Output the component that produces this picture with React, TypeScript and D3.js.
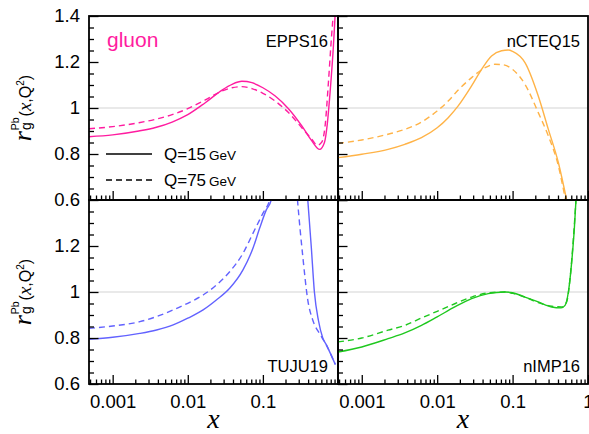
import React, { useRef, useEffect } from "react";
import * as d3 from "d3";

// x domain of every panel
const xDomain = [0.000484, 1];
const yDomain = [0.6, 1.4];

const xMajorTicks = [0.001, 0.01, 0.1, 1];
const yMajorTicks = [0.6, 0.8, 1.0, 1.2, 1.4];

// [x, r_g], Q=15 GeV (solid) and Q=75 GeV (dashed)
const eppsQ15 = [
  [0.000484, 0.875], [0.001, 0.883], [0.00223, 0.9], [0.00372, 0.915], [0.00619, 0.939],
  [0.01, 0.971], [0.0171, 1.023], [0.0286, 1.078], [0.0388, 1.103], [0.0526, 1.116],
  [0.0715, 1.11], [0.1, 1.088], [0.146, 1.052], [0.219, 0.997], [0.33, 0.922],
  [0.448, 0.857], [0.57, 0.82], [0.66, 0.85], [0.72, 0.93], [0.784, 1.067],
  [0.869, 1.27], [0.914, 1.4], [0.96, 1.52],
];
const eppsQ75 = [
  [0.000484, 0.91], [0.001, 0.919], [0.00223, 0.936], [0.00372, 0.951], [0.00619, 0.971],
  [0.01, 0.997], [0.0171, 1.035], [0.0286, 1.074], [0.0388, 1.088], [0.0526, 1.093],
  [0.0715, 1.084], [0.1, 1.064], [0.146, 1.03], [0.219, 0.98], [0.33, 0.914],
  [0.448, 0.864], [0.53, 0.838], [0.608, 0.852], [0.673, 0.922], [0.745, 1.11],
  [0.809, 1.284], [0.87, 1.42], [0.93, 1.55],
];

const ncteqQ15 = [
  [0.000484, 0.784], [0.001, 0.799], [0.00223, 0.82], [0.00372, 0.842], [0.00619, 0.871],
  [0.01, 0.914], [0.014, 0.958], [0.019, 1.009], [0.0286, 1.096], [0.0388, 1.168],
  [0.0526, 1.226], [0.0715, 1.249], [0.0877, 1.252], [0.1, 1.246], [0.146, 1.197],
  [0.219, 1.052], [0.298, 0.907], [0.405, 0.762], [0.521, 0.6], [0.6, 0.5],
];
const ncteqQ75 = [
  [0.000484, 0.846], [0.001, 0.861], [0.00223, 0.886], [0.00372, 0.907], [0.00619, 0.939],
  [0.01, 0.987], [0.014, 1.03], [0.019, 1.078], [0.0286, 1.132], [0.043, 1.175],
  [0.0583, 1.19], [0.0752, 1.188], [0.1, 1.168], [0.146, 1.103], [0.219, 0.98],
  [0.298, 0.878], [0.405, 0.748], [0.504, 0.6], [0.6, 0.48],
];

const tujuQ15 = [
  [0.000484, 0.794], [0.001, 0.803], [0.0023, 0.82], [0.00384, 0.835], [0.00639, 0.857],
  [0.01, 0.886], [0.016, 0.922], [0.024, 0.965], [0.0361, 1.016], [0.0543, 1.096],
  [0.0737, 1.19], [0.0904, 1.277], [0.111, 1.357], [0.129, 1.4], [0.17, 1.7],
  [0.25, 1.85], [0.33, 1.7], [0.396, 1.4], [0.44, 1.2], [0.485, 1.0],
  [0.55, 0.875], [0.627, 0.8], [0.7, 0.77], [0.8, 0.73], [0.92, 0.685],
];
const tujuQ75 = [
  [0.000484, 0.842], [0.001, 0.852], [0.0023, 0.871], [0.00384, 0.893], [0.00639, 0.922],
  [0.01, 0.951], [0.016, 0.987], [0.024, 1.03], [0.0361, 1.088], [0.0543, 1.168],
  [0.0737, 1.255], [0.1, 1.342], [0.123, 1.4], [0.16, 1.6], [0.21, 1.7],
  [0.26, 1.6], [0.289, 1.4], [0.34, 1.154], [0.396, 0.965], [0.461, 0.878],
  [0.566, 0.82], [0.694, 0.772], [0.8, 0.73], [0.92, 0.685],
];

const nimpQ15 = [
  [0.000484, 0.739], [0.001, 0.761], [0.00223, 0.797], [0.00372, 0.822], [0.00619, 0.855],
  [0.01, 0.892], [0.0171, 0.935], [0.0286, 0.971], [0.0475, 0.993], [0.0791, 1.0],
  [0.1, 0.997], [0.146, 0.978], [0.219, 0.957], [0.33, 0.935], [0.439, 0.931],
  [0.496, 0.942], [0.549, 1.0], [0.608, 1.131], [0.659, 1.276], [0.694, 1.406], [0.75, 1.6],
];
const nimpQ75 = [
  [0.000484, 0.783], [0.001, 0.8], [0.00223, 0.834], [0.00372, 0.855], [0.00619, 0.887],
  [0.01, 0.916], [0.0171, 0.949], [0.0286, 0.978], [0.0475, 0.996], [0.0791, 1.0],
  [0.1, 0.994], [0.146, 0.978], [0.219, 0.954], [0.33, 0.938], [0.448, 0.935],
  [0.521, 0.957], [0.578, 1.058], [0.64, 1.232], [0.694, 1.406], [0.75, 1.6],
];

const panels = [
  { name: "EPPS16", color: "#ff1ca0", q15: eppsQ15, q75: eppsQ75, col: 0, row: 0 },
  { name: "nCTEQ15", color: "#ffb347", q15: ncteqQ15, q75: ncteqQ75, col: 1, row: 0 },
  { name: "TUJU19", color: "#6262ff", q15: tujuQ15, q75: tujuQ75, col: 0, row: 1 },
  { name: "nIMP16", color: "#1ec81e", q15: nimpQ15, q75: nimpQ75, col: 1, row: 1 },
];

const SANS = "'Liberation Sans', Arial, Helvetica, sans-serif";
const SERIF = "'Liberation Serif', 'Times New Roman', serif";

const App = () => {
  const ref = useRef(null);

  useEffect(() => {
    const width = 589;
    const height = 434;
    const colX = [89, 338, 588];
    const rowY = [16, 200, 384];

    d3.select(ref.current).select("svg").remove();

    const svg = d3
      .select(ref.current)
      .append("svg")
      .attr("width", width)
      .attr("height", height)
      .style("position", "absolute")
      .style("left", "0px")
      .style("top", "0px")
      .style("background", "#fff");

    const minorX = [];
    for (let e = -4; e <= 0; e++) {
      for (let m = 2; m <= 9; m++) {
        const v = m * Math.pow(10, e);
        if (v >= xDomain[0] && v <= xDomain[1]) minorX.push(v);
      }
    }
    const minorY = d3.range(0.6, 1.4001, 0.05).filter((v) => Math.abs(Math.round(v * 5) - v * 5) > 0.01);

    panels.forEach((p, i) => {
      const x0 = colX[p.col];
      const x1 = colX[p.col + 1];
      const y0 = rowY[p.row];
      const y1 = rowY[p.row + 1];

      const x = d3.scaleLog().domain(xDomain).range([x0, x1]);
      const y = d3.scaleLinear().domain(yDomain).range([y1, y0]);

      const clipId = `clip${i}`;
      svg
        .append("clipPath")
        .attr("id", clipId)
        .append("rect")
        .attr("x", x0)
        .attr("y", y0)
        .attr("width", x1 - x0)
        .attr("height", y1 - y0);

      const g = svg.append("g");

      // reference line at 1
      g.append("line")
        .attr("x1", x0)
        .attr("x2", x1)
        .attr("y1", y(1))
        .attr("y2", y(1))
        .attr("stroke", "#d4d4d4")
        .attr("stroke-width", 1.2);

      const line = d3
        .line()
        .x((d) => x(d[0]))
        .y((d) => y(d[1]))
        .curve(d3.curveMonotoneX);

      const curves = g.append("g").attr("clip-path", `url(#${clipId})`);
      curves
        .append("path")
        .attr("d", line(p.q75))
        .attr("fill", "none")
        .attr("stroke", p.color)
        .attr("stroke-width", 1.4)
        .attr("stroke-dasharray", "6,4");
      curves
        .append("path")
        .attr("d", line(p.q15))
        .attr("fill", "none")
        .attr("stroke", p.color)
        .attr("stroke-width", 1.4);

      // bottom axis, ticks inward
      const showX = p.row === 1;
      const xLabels = p.col === 1 ? xMajorTicks : xMajorTicks.slice(0, 3);
      const bx = g.append("g").attr("transform", `translate(0,${y1})`);
      bx.call(
        d3
          .axisBottom(x)
          .tickValues(showX ? xLabels : xMajorTicks)
          .tickSize(-9)
          .tickPadding(11)
          .tickFormat((d) => (showX ? String(d) : ""))
      );
      bx.append("g").call(d3.axisBottom(x).tickValues(minorX).tickSize(-4.5).tickFormat(() => ""));
      bx.selectAll(".domain").remove();
      bx.selectAll("line").attr("stroke", "#000").attr("stroke-width", 1.3);
      bx.selectAll("text")
        .attr("font-family", SANS)
        .attr("font-size", 18.5)
        .attr("fill", "#000");

      // left axis, ticks inward
      const showY = p.col === 0;
      const yLabels = p.row === 0 ? yMajorTicks : yMajorTicks.slice(0, 4);
      const ly = g.append("g").attr("transform", `translate(${x0},0)`);
      ly.call(
        d3
          .axisLeft(y)
          .tickValues(showY ? yLabels : yMajorTicks)
          .tickSize(-9.5)
          .tickPadding(9)
          .tickFormat((d) => (showY ? d3.format("~g")(d) : ""))
      );
      ly.append("g").call(d3.axisLeft(y).tickValues(minorY).tickSize(-5).tickFormat(() => ""));
      ly.selectAll(".domain").remove();
      ly.selectAll("line").attr("stroke", "#000").attr("stroke-width", 1.3);
      ly.selectAll("text")
        .attr("font-family", SANS)
        .attr("font-size", 18.5)
        .attr("fill", "#000");

      // frame
      g.append("rect")
        .attr("x", x0)
        .attr("y", y0)
        .attr("width", x1 - x0)
        .attr("height", y1 - y0)
        .attr("fill", "none")
        .attr("stroke", "#000")
        .attr("stroke-width", 1.8);

      // set name
      g.append("text")
        .attr("x", x1 - (p.col === 0 ? 10 : 8))
        .attr("y", p.row === 0 ? y0 + 31 : y1 - 12)
        .attr("text-anchor", "end")
        .attr("font-family", SANS)
        .attr("font-size", 16.5)
        .attr("fill", "#000")
        .text(p.name);
    });

    // "gluon"
    svg
      .append("text")
      .attr("x", 107)
      .attr("y", 47)
      .attr("font-family", SANS)
      .attr("font-size", 21)
      .attr("fill", panels[0].color)
      .text("gluon");

    // legend
    const legend = [
      { q: "Q=15", dash: null, y: 154 },
      { q: "Q=75", dash: "6,4", y: 180 },
    ];
    legend.forEach((l) => {
      svg
        .append("line")
        .attr("x1", 106)
        .attr("x2", 152)
        .attr("y1", l.y)
        .attr("y2", l.y)
        .attr("stroke", "#000")
        .attr("stroke-width", 1.3)
        .attr("stroke-dasharray", l.dash);
      const t = svg
        .append("text")
        .attr("x", 164)
        .attr("y", l.y + 6)
        .attr("font-family", SANS)
        .attr("fill", "#000");
      t.append("tspan").attr("font-size", 17).text(l.q);
      t.append("tspan").attr("font-size", 13.5).attr("dx", 3).text("GeV");
    });

    // y-axis titles
    [108, 292].forEach((cy) => {
      const t = svg
        .append("text")
        .attr("transform", `translate(31,${cy}) rotate(-90)`)
        .attr("text-anchor", "middle")
        .attr("fill", "#000")
        .attr("font-family", SANS);
      t.append("tspan").attr("font-family", SERIF).attr("font-style", "italic").attr("font-size", 26).text("r");
      t.append("tspan").attr("font-size", 14).attr("dy", 0).attr("dx", 1).text("g");
      t.append("tspan").attr("font-size", 10.5).attr("dx", -8).attr("dy", -12).text("Pb");
      t.append("tspan").attr("font-size", 16).attr("dx", 1).attr("dy", 12).text("(");
      t.append("tspan").attr("font-family", SERIF).attr("font-style", "italic").attr("font-size", 19).text("x");
      t.append("tspan").attr("font-size", 16).text(",Q");
      t.append("tspan").attr("font-size", 10).attr("dy", -7).text("2");
      t.append("tspan").attr("font-size", 16).attr("dy", 7).text(")");
    });

    // x-axis titles
    [(colX[0] + colX[1]) / 2, (colX[1] + colX[2]) / 2].forEach((cx) => {
      svg
        .append("text")
        .attr("x", cx)
        .attr("y", 428)
        .attr("text-anchor", "middle")
        .attr("font-family", SERIF)
        .attr("font-style", "italic")
        .attr("font-size", 28)
        .attr("fill", "#000")
        .text("x");
    });
  }, []);

  return <div ref={ref}></div>;
};

export default App;
